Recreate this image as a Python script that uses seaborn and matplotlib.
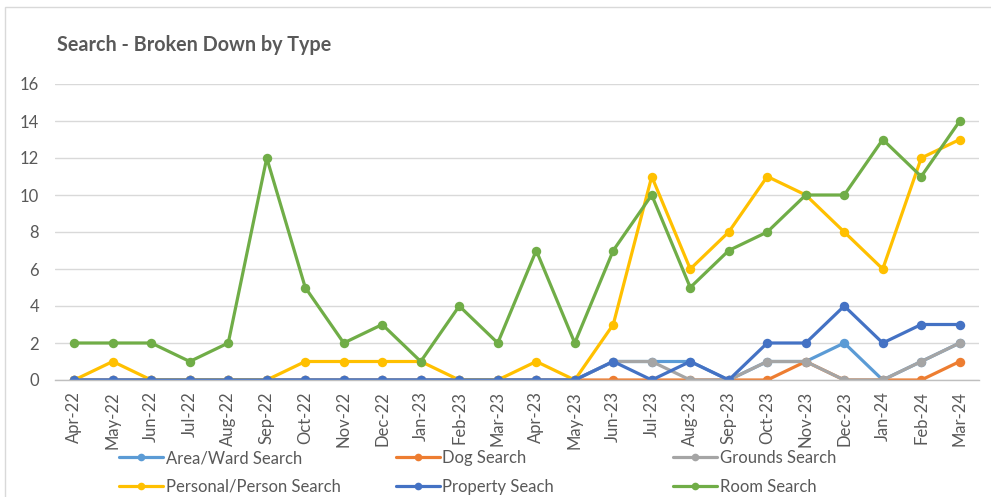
import numpy as np
import pandas as pd
import seaborn as sns
import matplotlib
matplotlib.use("Agg")
import matplotlib.pyplot as plt
from matplotlib.lines import Line2D
from matplotlib.patches import Rectangle

# data
months = ["Apr-22", "May-22", "Jun-22", "Jul-22", "Aug-22", "Sep-22", "Oct-22", "Nov-22",
          "Dec-22", "Jan-23", "Feb-23", "Mar-23", "Apr-23", "May-23", "Jun-23", "Jul-23",
          "Aug-23", "Sep-23", "Oct-23", "Nov-23", "Dec-23", "Jan-24", "Feb-24", "Mar-24"]
area_ward = [0, 0, 0, 0, 0, 0, 0, 0, 0, 0, 0, 0, 0, 0, 1, 1, 1, 0, 1, 1, 2, 0, 1, 2]
dog = [0, 0, 0, 0, 0, 0, 0, 0, 0, 0, 0, 0, 0, 0, 0, 0, 0, 0, 0, 1, 0, 0, 0, 1]
grounds = [0, 0, 0, 0, 0, 0, 0, 0, 0, 0, 0, 0, 0, 0, 1, 1, 0, 0, 1, 1, 0, 0, 1, 2]
personal = [0, 1, 0, 0, 0, 0, 1, 1, 1, 1, 0, 0, 1, 0, 3, 11, 6, 8, 11, 10, 8, 6, 12, 13]
property_ = [0, 0, 0, 0, 0, 0, 0, 0, 0, 0, 0, 0, 0, 0, 1, 0, 1, 0, 2, 2, 4, 2, 3, 3]
room = [2, 2, 2, 1, 2, 12, 5, 2, 3, 1, 4, 2, 7, 2, 7, 10, 5, 7, 8, 10, 10, 13, 11, 14]

series_names = ["Area/Ward Search", "Dog Search", "Grounds Search",
                "Personal/Person Search", "Property Seach", "Room Search"]
colors = ["#5B9BD5", "#ED7D31", "#A5A5A5", "#FFC000", "#4472C4", "#70AD47"]

frames = []
for name, vals in zip(series_names, [area_ward, dog, grounds, personal, property_, room]):
    frames.append(pd.DataFrame({"idx": range(len(months)), "value": vals, "series": name}))
df = pd.concat(frames, ignore_index=True)

sns.set_style("white")
plt.rcParams["font.family"] = ["Lato", "DejaVu Sans"]

fig = plt.figure(figsize=(9.91, 4.97), dpi=100)
ax = fig.add_axes([55 / 991, 1 - 380 / 497, 924 / 991, 296 / 497])

sns.lineplot(data=df, x="idx", y="value", hue="series", hue_order=series_names,
             palette=colors, marker="o", markersize=6.8, markeredgewidth=0,
             linewidth=2.3, legend=False, ax=ax, sort=False)

ax.set_xlim(-0.5, len(months) - 0.5)
ax.set_ylim(0, 16)
ax.set_yticks(range(0, 17, 2))
ax.set_xticks(range(len(months)))
ax.set_xticklabels(months, rotation=90)
ax.set_xticks(np.arange(-0.5, len(months), 1), minor=True)
ax.tick_params(axis="x", which="major", length=0, pad=8, labelsize=12, colors="#595959")
ax.tick_params(axis="x", which="minor", length=5, width=1, color="#BFBFBF", direction="out")
ax.tick_params(axis="y", length=0, pad=11.5, labelsize=12, colors="#595959")
ax.set_xlabel("")
ax.set_ylabel("")
ax.yaxis.grid(True, color="#D9D9D9", linewidth=1)
ax.set_axisbelow(True)
for s in ["top", "right", "left"]:
    ax.spines[s].set_visible(False)
ax.spines["bottom"].set_color("#BFBFBF")
ax.spines["bottom"].set_linewidth(1)

fig.text(57 / 991, 1 - 45 / 497, "Search - Broken Down by Type", fontsize=14.2,
         fontweight="bold", color="#595959", va="center", ha="left")

# outer chart border
fig.patches.append(Rectangle((5 / 991, -0.01), 1.0, 1 - 7 / 497 + 0.01,
                             transform=fig.transFigure, fill=False,
                             edgecolor="#D9D9D9", linewidth=1))

# legend laid out in 3 columns x 2 rows
leg_fs = 12
leg_x = [119, 396, 673]
leg_y = [458, 487]
order = [[0, 3], [1, 4], [2, 5]]
for col, items in enumerate(order):
    for row, i in enumerate(items):
        h = Line2D([], [], color=colors[i], linewidth=2.3, marker="o",
                   markersize=5.5, markeredgewidth=0)
        fig.legend([h], [series_names[i]], loc="center left",
                   bbox_to_anchor=(leg_x[col] / 991, 1 - leg_y[row] / 497),
                   frameon=False, borderpad=0, borderaxespad=0,
                   handlelength=44 / (leg_fs * 100 / 72), handletextpad=0.15,
                   fontsize=leg_fs, labelcolor="#595959")

fig.savefig("out.png", dpi=100)
